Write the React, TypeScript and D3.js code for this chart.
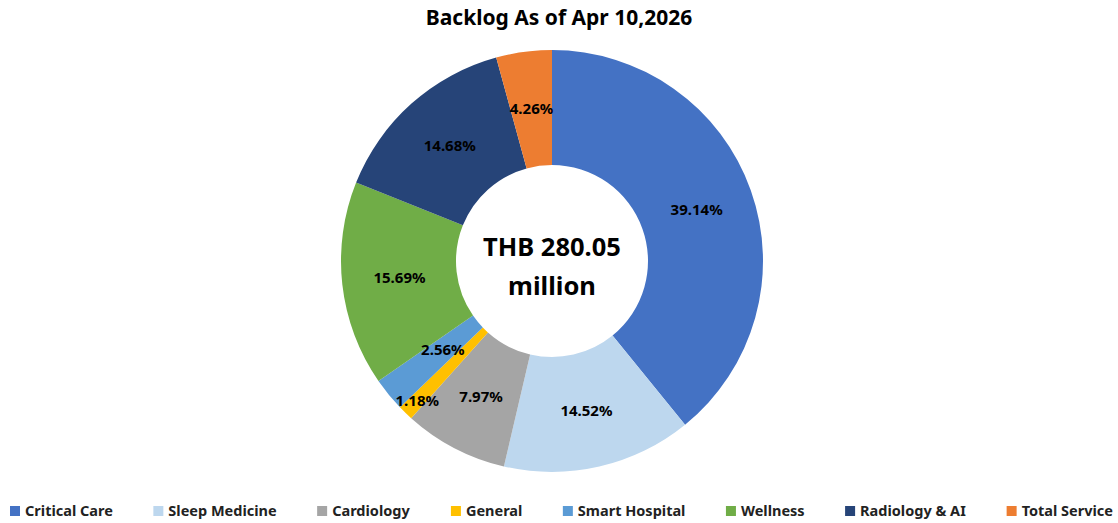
import React, { useEffect, useRef } from "react";
import * as d3 from "d3";

const categories = ["Critical Care", "Sleep Medicine", "Cardiology", "General", "Smart Hospital", "Wellness", "Radiology & AI", "Total Service"];
const shares = [39.14, 14.52, 7.97, 1.18, 2.56, 15.69, 14.68, 4.26];
const colors = ["#4472C4", "#BDD7EE", "#A5A5A5", "#FFC000", "#5B9BD5", "#70AD47", "#264478", "#ED7D31"];
const title = "Backlog As of Apr 10,2026";
const centerLines = ["THB 280.05", "million"];

const W = 1118;
const H = 523;
const FONT = "'Noto Sans', 'DejaVu Sans', sans-serif";

export default function App() {
  const ref = useRef<SVGSVGElement>(null);

  useEffect(() => {
    const svg = d3.select(ref.current);
    svg.selectAll("*").remove();

    svg.append("text")
      .attr("x", W / 2).attr("y", 25)
      .attr("text-anchor", "middle")
      .style("font-family", FONT).style("font-weight", 700).style("font-size", "21px")
      .text(title);

    const cx = 552, cy = 261, outerR = 211, innerR = 96;
    const data = categories.map((name, i) => ({ name, value: shares[i], color: colors[i] }));

    const pie = d3.pie<any>().value((d) => d.value).sort(null);
    const arc = d3.arc<any>().innerRadius(innerR).outerRadius(outerR);
    const arcs = pie(data);

    const g = svg.append("g").attr("transform", `translate(${cx},${cy})`);
    g.selectAll("path")
      .data(arcs)
      .enter().append("path")
      .attr("d", arc)
      .attr("fill", (d) => d.data.color);

    // label radius: middle of the ring, small slices nudged so they don't collide
    const labelR = (d: any) => {
      if (d.data.name === "General") return 194;
      if (d.data.name === "Smart Hospital") return 141;
      return (innerR + outerR) / 2;
    };
    g.selectAll(".lbl")
      .data(arcs)
      .enter().append("text")
      .attr("class", "lbl")
      .attr("transform", (d) => {
        const a = (d.startAngle + d.endAngle) / 2;
        const r = labelR(d);
        return `translate(${r * Math.sin(a)},${-r * Math.cos(a) + 5})`;
      })
      .attr("text-anchor", "middle")
      .style("font-family", FONT).style("font-weight", 700).style("font-size", "15px")
      .attr("fill", "#000")
      .text((d) => d.data.value.toFixed(2) + "%");

    g.selectAll(".ctr")
      .data(centerLines)
      .enter().append("text")
      .attr("class", "ctr")
      .attr("x", 0)
      .attr("y", (d, i) => -5 + i * 39)
      .attr("text-anchor", "middle")
      .style("font-family", FONT).style("font-weight", 700).style("font-size", "25.5px")
      .text((d) => d);

    // legend: measure each item then spread them across the width
    const lg = svg.append("g");
    const items = lg.selectAll(".leg")
      .data(data)
      .enter().append("g")
      .attr("class", "leg");
    items.append("rect")
      .attr("y", 506).attr("width", 10).attr("height", 10)
      .attr("fill", (d) => d.color);
    items.append("text")
      .attr("x", 15).attr("y", 516)
      .style("font-family", FONT).style("font-weight", 700).style("font-size", "14.5px")
      .attr("fill", "#222")
      .text((d) => d.name);

    const widths: number[] = [];
    items.each(function () {
      widths.push((this as SVGGElement).getBBox().width);
    });
    const left = 10, right = 1113;
    const gap = (right - left - d3.sum(widths)) / (widths.length - 1);
    let x = left;
    items.attr("transform", (d, i) => {
      const t = `translate(${x},0)`;
      x += widths[i] + gap;
      return t;
    });
  }, []);

  return <svg ref={ref} width={W} height={H} style={{ display: "block", position: "absolute", left: 0, top: 0 }} />;
}
